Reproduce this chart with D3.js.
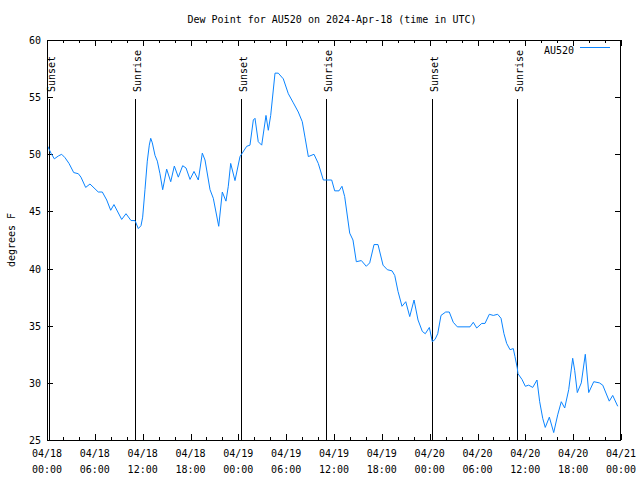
<!DOCTYPE html>
<html><head><meta charset="utf-8">
<script src="https://cdn.jsdelivr.net/npm/d3@7"></script>
<style>
body{margin:0;background:#fff;}
text{font-family:"DejaVu Sans Mono",monospace;font-size:10px;fill:#000;}
</style></head>
<body><svg id="c" width="640" height="480"></svg>
<script>
// hours after 2024-04-18 00:00 UTC
const hours = [0.09,0.50,0.92,1.42,1.84,2.26,2.76,3.35,3.93,4.26,4.85,5.39,6.43,6.94,7.49,7.99,8.40,9.37,9.91,10.54,11.04,11.45,11.79,12.0,12.29,12.58,12.83,13.01,13.21,13.55,13.84,14.17,14.51,15.01,15.52,15.97,16.47,17.02,17.44,17.94,18.44,18.98,19.48,19.82,20.45,20.86,21.54,21.99,22.45,22.74,23.04,23.58,24.21,25.05,25.46,25.88,26.09,26.5,26.93,27.47,27.76,28.06,28.6,29.01,29.64,30.27,30.9,31.52,32.02,32.36,32.78,33.49,34.03,34.66,35.71,36.09,36.63,37.0,37.34,37.97,38.38,38.8,39.43,40.05,40.48,41.02,41.52,42.15,42.69,43.28,43.62,44.03,44.53,45.0,45.5,46.04,46.54,47.08,47.45,47.96,48.33,48.67,49.01,49.42,50.01,50.46,50.96,51.47,53.06,53.47,53.9,54.53,54.94,55.48,55.98,56.53,56.95,57.32,57.66,58.08,58.49,58.7,58.99,59.08,59.58,60.0,60.42,60.93,61.46,61.8,62.18,62.5,63.01,63.56,64.06,64.51,64.94,65.44,65.94,66.19,66.52,67.02,67.52,67.95,68.58,69.28,69.71,70.53,70.96,71.59];
const dewPoint = [50.7,50.1,49.6,49.85,50.0,49.7,49.2,48.4,48.3,48.0,47.1,47.4,46.7,46.7,46.0,45.1,45.6,44.3,44.8,44.2,44.2,43.5,43.75,44.5,46.9,49.4,50.8,51.4,51.0,49.9,49.4,48.3,46.9,48.7,47.6,48.97,48.0,49.0,48.8,47.8,48.5,47.75,50.1,49.5,46.9,46.15,43.7,46.7,45.9,47.2,49.2,47.7,49.8,50.7,50.8,53.0,53.15,51.1,50.8,53.4,52.1,53.4,57.1,57.1,56.6,55.3,54.5,53.7,52.85,51.5,49.8,50.0,49.2,47.75,47.75,46.8,46.8,47.2,46.3,43.1,42.5,40.6,40.7,40.2,40.5,42.1,42.1,40.3,39.9,39.8,39.4,38.0,36.7,37.1,35.8,37.25,35.5,34.5,34.3,34.85,33.6,33.8,34.3,35.9,36.2,36.2,35.3,34.9,34.9,35.3,34.8,35.2,35.2,36.0,35.9,36.0,35.65,34.3,33.45,32.9,33.0,32.3,31.3,30.8,30.3,29.7,29.8,29.6,30.25,28.35,26.9,26.1,27.0,25.65,27.2,28.35,27.8,29.4,32.15,31.1,29.15,30.0,32.5,29.15,30.1,30.0,29.8,28.4,28.9,27.95];
const sunEventHours = [0.25,11.04,24.3,35.0,48.33,58.98];
const sunEventLabels = ["Sunset","Sunrise","Sunset","Sunrise","Sunset","Sunrise"];
const yTicks = [25,30,35,40,45,50,55,60];
const seriesName = "AU520";
const titleText = "Dew Point for AU520 on 2024-Apr-18 (time in UTC)";
const yLabel = "degrees F";

const base = Date.UTC(2024,3,18);
const toDate = h => new Date(base + h*3600e3);
const L=47,R=621,T=40,B=440;
const svg = d3.select("#c");
const x = d3.scaleUtc().domain([toDate(0),toDate(72)]).range([L,R]);
const y = d3.scaleLinear().domain([25,60]).range([B,T]);

// minor ticks (every 2h) on bottom and top
const minor = d3.utcHour.every(2).range(toDate(0), toDate(72.01));
const major = d3.utcHour.every(6).range(toDate(0), toDate(72.01));
const g = svg.append("g").attr("shape-rendering","crispEdges").attr("stroke","#000");
minor.forEach(d=>{
  const xx=Math.round(x(d))+0.5;
  g.append("line").attr("x1",xx).attr("x2",xx).attr("y1",B).attr("y2",B-3);
  g.append("line").attr("x1",xx).attr("x2",xx).attr("y1",T).attr("y2",T+3);
});
major.forEach(d=>{
  const xx=Math.round(x(d))+0.5;
  g.append("line").attr("x1",xx).attr("x2",xx).attr("y1",B).attr("y2",B-6);
  g.append("line").attr("x1",xx).attr("x2",xx).attr("y1",T).attr("y2",T+6);
});
yTicks.forEach(v=>{
  const yy=Math.round(y(v))+0.5;
  g.append("line").attr("x1",L).attr("x2",L+6).attr("y1",yy).attr("y2",yy);
  g.append("line").attr("x1",R).attr("x2",R-6).attr("y1",yy).attr("y2",yy);
});
// x labels
const fmtD = d3.utcFormat("%m/%d"), fmtT = d3.utcFormat("%H:%M");
major.forEach(d=>{
  const t = svg.append("text").attr("x",x(d)).attr("text-anchor","middle");
  t.append("tspan").attr("x",x(d)).attr("y",457).text(fmtD(d));
  t.append("tspan").attr("x",x(d)).attr("y",473).text(fmtT(d));
});
yTicks.forEach(v=>{
  svg.append("text").attr("x",L-6).attr("y",y(v)+4).attr("text-anchor","end").text(v);
});

// sun event lines
sunEventHours.forEach((h,i)=>{
  const xx=Math.round(x(toDate(h)))+0.5;
  svg.append("line").attr("shape-rendering","crispEdges").attr("stroke","#000")
    .attr("x1",xx).attr("x2",xx).attr("y1",B).attr("y2",y(54.8));
  svg.append("text").attr("transform",`translate(${xx+5},92) rotate(-90)`).text(sunEventLabels[i]);
});

// data line
const line = d3.line().x((d,i)=>x(toDate(hours[i]))).y(d=>y(d));
svg.append("path").datum(dewPoint).attr("d",line).attr("fill","none")
  .attr("stroke","#0a84ff").attr("stroke-width",1);

// border
svg.append("rect").attr("x",L+0.5).attr("y",T+0.5).attr("width",R-L-1).attr("height",B-T)
  .attr("fill","none").attr("stroke","#000").attr("shape-rendering","crispEdges");

// title
svg.append("text").attr("x",332).attr("y",23).attr("text-anchor","middle").text(titleText);
svg.append("text").attr("transform","translate(15,240) rotate(-90)").attr("text-anchor","middle").text(yLabel);

// legend
svg.append("text").attr("x",574).attr("y",54).attr("text-anchor","end").text(seriesName);
svg.append("line").attr("x1",580).attr("x2",610).attr("y1",47.5).attr("y2",47.5)
  .attr("stroke","#0a84ff").attr("shape-rendering","crispEdges");
</script></body></html>
